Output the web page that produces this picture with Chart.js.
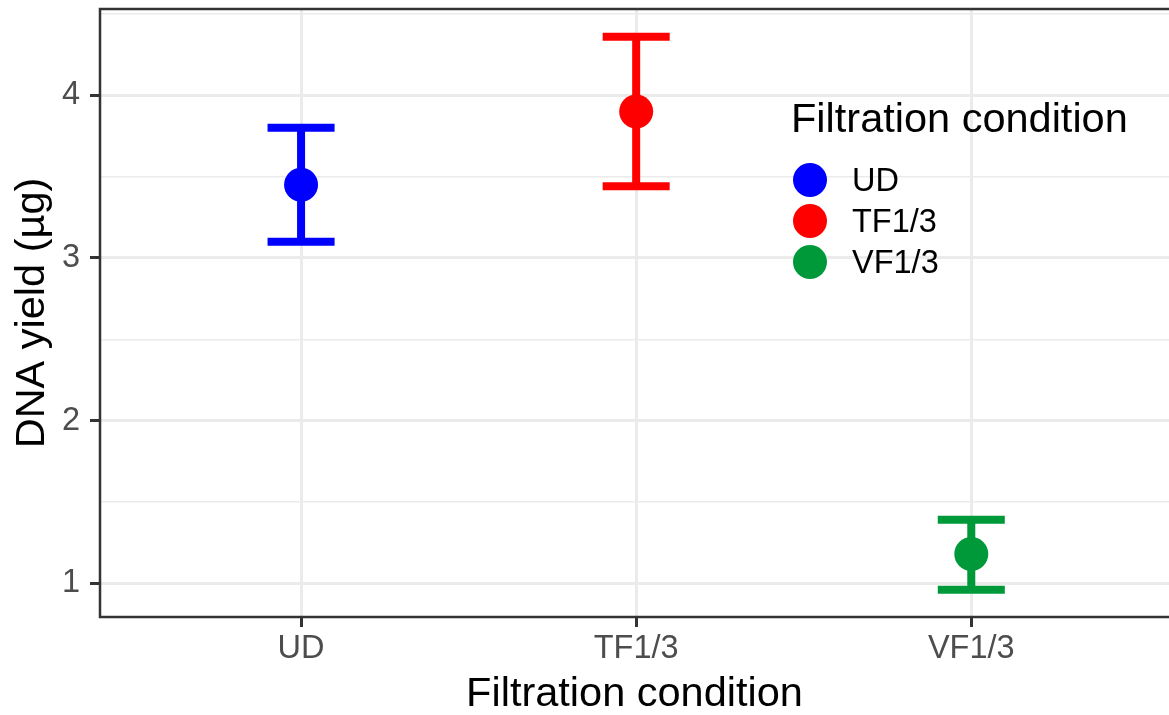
<!DOCTYPE html>
<html>
<head>
<meta charset="utf-8">
<script src="https://cdn.jsdelivr.net/npm/chart.js@4"></script>
<style>
  html, body { margin: 0; padding: 0; background: #fff; }
  #wrap { width: 1169px; height: 715px; }
</style>
</head>
<body>
<div id="wrap"><canvas id="myChart" width="1169" height="715"></canvas></div>
<script>
// data
const categories = ['UD', 'TF1/3', 'VF1/3']
const means = [3.45, 3.90, 1.18]
const upper = [3.80, 4.36, 1.39]
const lower = [3.10, 3.44, 0.96]
const colors = ['#0000FF', '#FF0000', '#00993A']
const yTicks = [1, 1.5, 2, 2.5, 3, 3.5, 4, 4.5]
const xTicks = [1, 2, 3]

const FONT = "'Liberation Sans', Arial, sans-serif"

const points = categories.map((c, i) => ({ x: i + 1, y: means[i] }))

// error bars, drawn through the scales
const errorBars = {
    id: 'errorBars',
    beforeDatasetsDraw(chart) {
        const { ctx, scales: { x, y } } = chart
        ctx.save()
        ctx.lineWidth = 8
        categories.forEach((c, i) => {
            const px = x.getPixelForValue(i + 1)
            const left = x.getPixelForValue(i + 1 - 0.1)
            const right = x.getPixelForValue(i + 1 + 0.1)
            const yHi = y.getPixelForValue(upper[i])
            const yLo = y.getPixelForValue(lower[i])
            ctx.strokeStyle = colors[i]
            ctx.beginPath()
            ctx.moveTo(px, yHi); ctx.lineTo(px, yLo)
            ctx.moveTo(left, yHi); ctx.lineTo(right, yHi)
            ctx.moveTo(left, yLo); ctx.lineTo(right, yLo)
            ctx.stroke()
        })
        ctx.restore()
    }
}

// panel border (right side falls off the canvas) + legend like ggplot
const panelAndLegend = {
    id: 'panelAndLegend',
    afterDraw(chart) {
        const { ctx, chartArea: a } = chart
        ctx.save()
        ctx.strokeStyle = '#333333'
        ctx.lineWidth = 2.5
        ctx.strokeRect(a.left, a.top, a.right - a.left + 10, a.bottom - a.top)

        ctx.fillStyle = '#000'
        ctx.textBaseline = 'middle'
        ctx.textAlign = 'left'
        ctx.font = '41.5px ' + FONT
        ctx.fillText('Filtration condition', 791, 121)
        ctx.font = '32.5px ' + FONT
        const keyY = [180, 221, 262]
        categories.forEach((c, i) => {
            ctx.fillStyle = colors[i]
            ctx.beginPath()
            ctx.arc(810, keyY[i], 17, 0, Math.PI * 2)
            ctx.fill()
            ctx.fillStyle = '#000'
            ctx.fillText(c, 852, keyY[i] + 2)
        })
        ctx.restore()
    }
}

var ctx = document.getElementById('myChart')
var myChart = new Chart(ctx, {
    type: 'scatter',
    data: {
        datasets: [{
            label: 'Filtration condition',
            data: points,
            backgroundColor: colors,
            borderWidth: 0,
            pointRadius: 17,
            pointHoverRadius: 17
        }]
    },
    options: {
        responsive: false,
        animation: false,
        layout: { autoPadding: false, padding: { top: 9, right: 0, left: 0, bottom: 0 } },
        plugins: {
            legend: { display: false },
            tooltip: { enabled: false }
        },
        scales: {
            x: {
                type: 'linear',
                min: 0.4,
                max: 3.59,
                afterBuildTicks: s => { s.ticks = xTicks.map(v => ({ value: v })) },
                afterFit: s => { s.height = 98; s.paddingLeft = 0; s.paddingRight = 0 },
                border: { display: false },
                grid: {
                    color: '#EBEBEB',
                    lineWidth: 3,
                    tickLength: 10,
                    tickColor: '#333333',
                    tickWidth: 3
                },
                ticks: {
                    padding: 3,
                    color: '#4D4D4D',
                    font: { family: FONT, size: 32.5 },
                    maxRotation: 0,
                    callback: v => categories[v - 1]
                },
                title: {
                    display: true,
                    text: 'Filtration condition',
                    color: '#000',
                    font: { family: FONT, size: 41.5, lineHeight: 1 },
                    padding: { top: 0, bottom: 0 }
                }
            },
            y: {
                min: 0.793,
                max: 4.53,
                afterBuildTicks: s => { s.ticks = yTicks.map(v => ({ value: v })) },
                afterFit: s => { s.width = 100; s.paddingTop = 0; s.paddingBottom = 0 },
                border: { display: false },
                grid: {
                    color: '#EBEBEB',
                    lineWidth: c => Number.isInteger(c.tick.value) ? 3 : 1.5,
                    tickLength: 10,
                    tickColor: c => Number.isInteger(c.tick.value) ? '#333333' : 'rgba(0,0,0,0)',
                    tickWidth: 3
                },
                ticks: {
                    padding: 10,
                    color: '#4D4D4D',
                    font: { family: FONT, size: 32.5 },
                    callback: v => Number.isInteger(v) ? String(v) : ''
                },
                title: {
                    display: true,
                    text: 'DNA yield (µg)',
                    color: '#000',
                    font: { family: FONT, size: 41.5, lineHeight: 1 },
                    padding: { top: 12, bottom: 0 }
                }
            }
        }
    },
    plugins: [errorBars, panelAndLegend]
})
</script>
</body>
</html>
